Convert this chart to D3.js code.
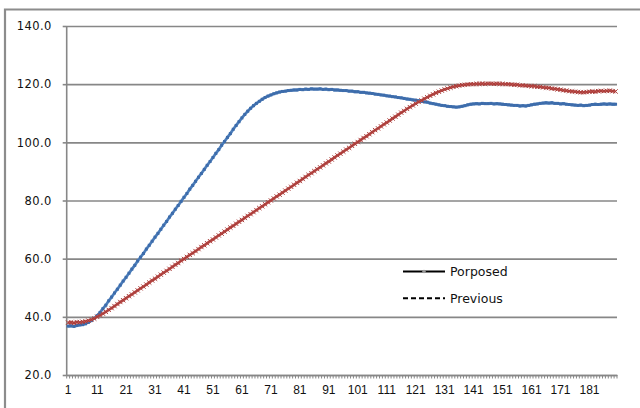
<!DOCTYPE html>
<html>
<head>
<meta charset="utf-8">
<script src="https://cdn.jsdelivr.net/npm/d3@7"></script>
<style>
  body { margin: 0; background: #fff; }
  svg { display: block; }
</style>
</head>
<body>
<div class="chart"></div>
<script>
// values, one per sample (1..190)
const proposed = [
  36.8, 36.9, 36.7, 37.0, 37.2, 37.3, 37.6, 38.1, 38.7, 39.5,
  40.4, 41.5, 42.8, 44.0, 45.5, 46.8, 48.2, 49.5, 50.9, 52.3,
  53.6, 55.0, 56.4, 57.7, 59.2, 60.5, 61.8, 63.3, 64.6, 66.0,
  67.4, 68.7, 70.1, 71.5, 72.8, 74.3, 75.6, 77.0, 78.3, 79.7,
  81.1, 82.4, 83.9, 85.2, 86.6, 88.0, 89.3, 90.7, 92.1, 93.4,
  94.8, 96.2, 97.5, 99.0, 100.3, 101.7, 103.0, 104.5, 105.8, 107.1,
  108.4, 109.6, 110.7, 111.7, 112.6, 113.4, 114.1, 114.8, 115.4, 115.9,
  116.3, 116.7, 117.0, 117.3, 117.5, 117.6, 117.8, 117.9, 118.0, 118.0,
  118.2, 118.1, 118.3, 118.2, 118.4, 118.3, 118.3, 118.4, 118.2, 118.3,
  118.1, 118.2, 118.0, 118.0, 117.9, 117.8, 117.8, 117.6, 117.6, 117.4,
  117.4, 117.2, 117.2, 117.0, 116.9, 116.8, 116.6, 116.5, 116.3, 116.2,
  116.0, 115.9, 115.7, 115.6, 115.4, 115.3, 115.1, 114.9, 114.8, 114.6,
  114.5, 114.3, 114.1, 113.9, 113.8, 113.5, 113.3, 113.1, 112.9, 112.7,
  112.6, 112.4, 112.3, 112.2, 112.1, 112.2, 112.4, 112.6, 112.9, 113.1,
  113.2, 113.3, 113.2, 113.4, 113.3, 113.3, 113.4, 113.2, 113.3, 113.2,
  113.1, 113.0, 112.9, 112.8, 112.7, 112.7, 112.5, 112.6, 112.5, 112.7,
  112.9, 113.1, 113.2, 113.4, 113.5, 113.6, 113.5, 113.6, 113.4, 113.4,
  113.2, 113.3, 113.1, 113.0, 112.9, 112.8, 112.7, 112.8, 112.6, 112.7,
  112.8, 113.0, 113.1, 113.0, 113.1, 113.2, 113.1, 113.2, 113.1, 113.1
];
const previous = [
  38.0, 38.1, 37.9, 38.2, 38.1, 38.3, 38.4, 38.7, 39.0, 39.4,
  40.0, 40.5, 41.1, 41.7, 42.4, 43.0, 43.7, 44.4, 45.1, 45.7,
  46.4, 47.1, 47.7, 48.4, 49.1, 49.8, 50.4, 51.1, 51.8, 52.5,
  53.1, 53.8, 54.5, 55.2, 55.8, 56.5, 57.2, 57.9, 58.5, 59.3,
  59.9, 60.6, 61.3, 61.9, 62.6, 63.3, 64.0, 64.6, 65.3, 66.0,
  66.6, 67.3, 68.0, 68.6, 69.3, 70.0, 70.7, 71.3, 72.0, 72.7,
  73.3, 74.0, 74.7, 75.3, 76.0, 76.7, 77.4, 78.0, 78.7, 79.4,
  80.0, 80.7, 81.4, 82.0, 82.7, 83.4, 84.1, 84.7, 85.4, 86.1,
  86.7, 87.4, 88.1, 88.8, 89.4, 90.1, 90.8, 91.4, 92.1, 92.8,
  93.4, 94.1, 94.8, 95.5, 96.1, 96.8, 97.5, 98.1, 98.8, 99.5,
  100.1, 100.8, 101.5, 102.1, 102.8, 103.5, 104.2, 104.8, 105.5, 106.2,
  106.8, 107.5, 108.2, 108.8, 109.5, 110.2, 110.8, 111.5, 112.1, 112.7,
  113.3, 113.9, 114.4, 115.0, 115.5, 116.0, 116.5, 117.0, 117.4, 117.8,
  118.2, 118.5, 118.8, 119.1, 119.3, 119.5, 119.7, 119.8, 119.9, 120.0,
  120.0, 120.1, 120.1, 120.2, 120.1, 120.2, 120.2, 120.1, 120.2, 120.1,
  120.1, 120.0, 120.0, 119.9, 119.8, 119.8, 119.6, 119.6, 119.5, 119.4,
  119.3, 119.3, 119.1, 119.1, 118.9, 118.8, 118.7, 118.5, 118.4, 118.2,
  118.1, 117.9, 117.8, 117.6, 117.5, 117.4, 117.3, 117.2, 117.2, 117.3,
  117.4, 117.5, 117.4, 117.6, 117.7, 117.6, 117.7, 117.8, 117.6, 117.5
];
const categories = d3.range(1, proposed.length + 1);
const xTickLabels = [1, 11, 21, 31, 41, 51, 61, 71, 81, 91, 101, 111, 121, 131, 141, 151, 161, 171, 181];
const yTicks = [20, 40, 60, 80, 100, 120, 140];
const legendLabels = ['Porposed', 'Previous'];

const w = 640;
const h = 408;
const padLeft = 66.7, padRight = 617, padTop = 26, padBottom = 375;
const grey = '#878787';

const xScale = d3.scaleBand()
                 .domain(categories)
                 .range([padLeft, padRight]);
const yScale = d3.scaleLinear()
                 .domain([20, 140])
                 .range([padBottom, padTop]);

const svg = d3.select('div.chart')
              .append('svg')
              .attr('width', w)
              .attr('height', h);

// outer frame (top and left edges visible)
svg.append('path')
   .attr('d', 'M5,408 V9.5 H640')
   .attr('fill', 'none')
   .attr('stroke', '#8c8c8c')
   .attr('stroke-width', 2.2);

// gridlines
svg.append('g')
   .attr('transform', 'translate(' + padLeft + ',0)')
   .call(d3.axisLeft(yScale).tickValues(yTicks).tickSize(-(padRight - padLeft)).tickFormat(''))
   .call(g => g.select('.domain').remove())
   .call(g => g.selectAll('line').attr('stroke', grey).attr('stroke-width', 1.6));

// y axis
const yAxis = d3.axisLeft(yScale)
                .tickValues(yTicks)
                .tickSize(4)
                .tickPadding(11)
                .tickFormat(d3.format('.1f'));
svg.append('g')
   .attr('transform', 'translate(' + padLeft + ',0)')
   .call(yAxis)
   .call(g => g.select('.domain').attr('stroke', grey).attr('stroke-width', 1.6).attr('d', 'M0,' + padBottom + 'V' + padTop))
   .call(g => g.selectAll('line').attr('stroke', grey).attr('stroke-width', 1.6))
   .call(g => g.selectAll('text')
               .attr('fill', '#111')
               .attr('font-family', 'DejaVu Sans')
               .attr('font-size', 11.5)
               .attr('letter-spacing', 0.4));

// x axis: labels every 10, small ticks between every category
const xAxis = d3.axisBottom(xScale)
                .tickValues(xTickLabels)
                .tickSize(0)
                .tickPadding(10);
svg.append('g')
   .attr('transform', 'translate(0,' + padBottom + ')')
   .call(xAxis)
   .call(g => g.select('.domain').attr('stroke', grey).attr('stroke-width', 1.6))
   .call(g => g.selectAll('text')
               .attr('fill', '#111')
               .attr('font-family', 'Liberation Sans')
               .attr('font-size', 12));

svg.append('g')
   .selectAll('line')
   .data(categories.concat([null]))
   .enter()
   .append('line')
   .attr('x1', (d) => d === null ? padRight : xScale(d))
   .attr('x2', (d) => d === null ? padRight : xScale(d))
   .attr('y1', padBottom)
   .attr('y2', padBottom + 3.5)
   .attr('stroke', grey)
   .attr('stroke-width', 1);

const cx = (i) => xScale(categories[i]) + xScale.bandwidth() / 2;
const line = d3.line()
               .x((d, i) => cx(i))
               .y((d) => yScale(d));

// proposed (blue)
svg.append('path')
   .datum(proposed)
   .attr('d', line)
   .attr('fill', 'none')
   .attr('stroke', '#4F81BD')
   .attr('stroke-width', 2.8);
svg.append('g')
   .selectAll('path')
   .data(proposed)
   .enter()
   .append('path')
   .attr('d', d3.symbol().type(d3.symbolSquare).size(9))
   .attr('transform', (d, i) => 'translate(' + cx(i) + ',' + yScale(d) + ')')
   .attr('fill', '#3d6cab');

// previous (red)
svg.append('path')
   .datum(previous)
   .attr('d', line)
   .attr('fill', 'none')
   .attr('stroke', '#C0504D')
   .attr('stroke-width', 2.8);
svg.append('g')
   .selectAll('path')
   .data(previous)
   .enter()
   .append('path')
   .attr('d', d3.symbol().type(d3.symbolX).size(14))
   .attr('transform', (d, i) => 'translate(' + cx(i) + ',' + yScale(d) + ')')
   .attr('fill', 'none')
   .attr('stroke', '#a83d3a')
   .attr('stroke-width', 1);

// legend
const legend = svg.append('g');
legend.append('line')
      .attr('x1', 403).attr('x2', 445)
      .attr('y1', 271.5).attr('y2', 271.5)
      .attr('stroke', '#000')
      .attr('stroke-width', 2);
legend.append('circle')
      .attr('cx', 424).attr('cy', 271.5).attr('r', 1.8)
      .attr('fill', '#999');
legend.append('line')
      .attr('x1', 403).attr('x2', 445)
      .attr('y1', 298.3).attr('y2', 298.3)
      .attr('stroke', '#000')
      .attr('stroke-width', 2)
      .attr('stroke-dasharray', '5,3');
legend.selectAll('text')
      .data(legendLabels)
      .enter()
      .append('text')
      .text((d) => d)
      .attr('x', 450)
      .attr('y', (d, i) => i === 0 ? 276 : 303)
      .attr('fill', '#111')
      .attr('font-family', 'DejaVu Sans')
      .attr('font-size', 12.5);
</script>
</body>
</html>
